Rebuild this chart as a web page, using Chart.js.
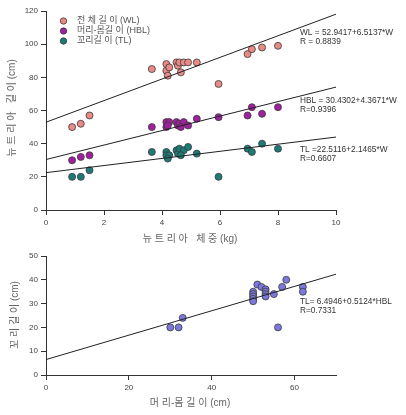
<!DOCTYPE html>
<html>
<head>
<meta charset="utf-8">
<script src="https://cdn.jsdelivr.net/npm/chart.js@4"></script>
<style>
    html, body { margin: 0; padding: 0; background: #fff; }
    #wrap { position: relative; width: 406px; height: 415px; }
    #topBox { position: absolute; left: 0; top: 0; width: 406px; height: 250px; }
    #botBox { position: absolute; left: 0; top: 240px; width: 406px; height: 175px; }
</style>
</head>
<body>
<div id="wrap">
    <div id="topBox"><canvas id="topChart"></canvas></div>
    <div id="botBox"><canvas id="botChart"></canvas></div>
</div>
<script>
// ===== DATA (top: body weight vs lengths) =====
const weightKg = [0.9, 1.2, 1.5, 3.65, 4.15, 4.15, 4.25, 4.2, 4.5, 4.55, 4.6, 4.75, 4.65, 4.9, 5.2, 5.95, 6.95, 7.1, 7.45, 8.0];
const wholeLen = [50, 52, 57, 85, 88, 84, 86, 81, 89, 87, 89, 89, 83, 89, 89, 76, 94, 97, 98, 99];
const headBodyLen = [30, 32, 33, 50, 53, 50, 53, 51, 53, 51, 52, 53, 50, 51, 55, 56, 57, 62, 58, 62];
const tailLen = [20, 20, 24, 35, 35, 33, 33, 31, 36, 34, 37, 36, 33, 38, 34, 20, 37, 35, 40, 37];

// regression line end points (x = 0 and x = 10)
const lineX = [0, 10];
const wlLine = [52.94, 118.08];
const hblLine = [30.43, 74.10];
const tlLine = [22.51, 43.98];

const topYTicks = [0, 20, 40, 60, 80, 100, 120];
const topXTicks = [0, 2, 4, 6, 8, 10];

// ===== DATA (bottom: head-body length vs tail length) =====
const hblCm = [30, 32, 33, 50, 50, 50, 50, 50, 51, 52, 53, 53, 53, 53, 55, 56, 57, 58, 62, 62];
const tlCm = [20, 20, 24, 35, 34, 33, 32, 31, 38, 37, 36, 35, 34, 33, 34, 20, 37, 40, 37, 35];
const botLineX = [0, 70];
const botLine = [6.49, 42.36];
const botYTicks = [0, 10, 20, 30, 40, 50];
const botXTicks = [0, 20, 40, 60];

const legendNames = ["전 체 길 이 (WL)", "머리-몸길 이 (HBL)", "꼬리길 이 (TL)"];
const colors = ["#ea8a86", "#a0209e", "#1d7b76"];

const FONT = "Arial, 'Liberation Sans', 'Noto Sans CJK KR', sans-serif";

function pts(xs, ys) {
    return xs.map((x, i) => ({ x: x, y: ys[i] }));
}

function scatterSet(xs, ys, color) {
    return {
        type: "scatter",
        data: pts(xs, ys),
        backgroundColor: color,
        borderColor: "#3a3a3a",
        borderWidth: 0.8,
        pointRadius: 3.5,
        pointHoverRadius: 3.5
    };
}

function lineSet(xs, ys) {
    return {
        type: "line",
        data: pts(xs, ys),
        borderColor: "#222",
        borderWidth: 1,
        pointRadius: 0,
        fill: false
    };
}

function axisOpts(min, max, ticks, size, isX) {
    return {
        type: "linear",
        min: min,
        max: max,
        afterBuildTicks: s => { s.ticks = ticks.map(v => ({ value: v })); },
        afterFit: s => { if (isX) s.height = size; else s.width = size; },
        grid: { display: true, drawOnChartArea: false, drawTicks: true, tickLength: 5, color: "#333" },
        border: { display: true, color: "#333", width: 1 },
        ticks: { color: "#444", font: { family: FONT, size: 8 }, padding: 3, maxRotation: 0 }
    };
}

// draws the texts that sit around / inside the plot
function textPlugin(draw) {
    return {
        id: "texts",
        afterDraw(chart) {
            const ctx = chart.ctx;
            ctx.save();
            draw(ctx, chart);
            ctx.restore();
        }
    };
}

// ================= TOP CHART =================
new Chart(document.getElementById("topChart"), {
    data: {
        datasets: [
            lineSet(lineX, wlLine),
            lineSet(lineX, hblLine),
            lineSet(lineX, tlLine),
            scatterSet(weightKg, wholeLen, colors[0]),
            scatterSet(weightKg, headBodyLen, colors[1]),
            scatterSet(weightKg, tailLen, colors[2])
        ]
    },
    options: {
        responsive: true,
        maintainAspectRatio: false,
        animation: false,
        layout: { padding: { left: 0, right: 70, top: 11, bottom: 0 } },
        plugins: { legend: { display: false }, tooltip: { enabled: false } },
        scales: {
            x: axisOpts(0, 10, topXTicks, 40, true),
            y: axisOpts(0, 120, topYTicks, 46, false)
        }
    },
    plugins: [textPlugin((ctx, chart) => {
        // legend
        ctx.font = "9px " + FONT;
        ctx.textBaseline = "middle";
        legendNames.forEach((name, i) => {
            const y = 21 + i * 10;
            ctx.beginPath();
            ctx.arc(63.5, y, 3.2, 0, Math.PI * 2);
            ctx.fillStyle = colors[i];
            ctx.fill();
            ctx.lineWidth = 0.8;
            ctx.strokeStyle = "#3a3a3a";
            ctx.stroke();
            ctx.fillStyle = "#555";
            ctx.textAlign = "left";
            ctx.fillText(name, 77, y);
        });

        // equations
        ctx.fillStyle = "#333";
        ctx.font = "8.3px " + FONT;
        ctx.fillText("WL = 52.9417+6.5137*W", 300, 33);
        ctx.fillText("R = 0.8839", 300, 42);
        ctx.fillText("HBL = 30.4302+4.3671*W", 300, 101);
        ctx.fillText("R=0.9396", 300, 110);
        ctx.fillText("TL =22.5116+2.1465*W", 300, 150);
        ctx.fillText("R=0.6607", 300, 159);

        // axis titles
        ctx.fillStyle = "#666";
        ctx.font = "10px " + FONT;
        ctx.textAlign = "center";
        ctx.fillText("뉴 트 리 아   체 중 (kg)", 190, 239);
        ctx.translate(12, 108);
        ctx.rotate(-Math.PI / 2);
        ctx.fillText("뉴 트 리 아   길 이 (cm)", 0, 0);
    })]
});

// ================= BOTTOM CHART =================
new Chart(document.getElementById("botChart"), {
    data: {
        datasets: [
            lineSet(botLineX, botLine),
            scatterSet(hblCm, tlCm, "#7b79de")
        ]
    },
    options: {
        responsive: true,
        maintainAspectRatio: false,
        animation: false,
        layout: { padding: { left: 0, right: 70, top: 16, bottom: 0 } },
        plugins: { legend: { display: false }, tooltip: { enabled: false } },
        scales: {
            x: axisOpts(0, 70, botXTicks, 40, true),
            y: axisOpts(0, 50, botYTicks, 46, false)
        }
    },
    plugins: [textPlugin((ctx, chart) => {
        ctx.fillStyle = "#333";
        ctx.font = "8.3px " + FONT;
        ctx.textBaseline = "middle";
        ctx.fillText("TL= 6.4946+0.5124*HBL", 300, 62);
        ctx.fillText("R=0.7331", 300, 71);

        ctx.fillStyle = "#666";
        ctx.font = "10px " + FONT;
        ctx.textAlign = "center";
        ctx.fillText("머 리-몸 길 이 (cm)", 190, 163);
        ctx.translate(15, 75);
        ctx.rotate(-Math.PI / 2);
        ctx.fillText("꼬 리 길 이 (cm)", 0, 0);
    })]
});
</script>
</body>
</html>
